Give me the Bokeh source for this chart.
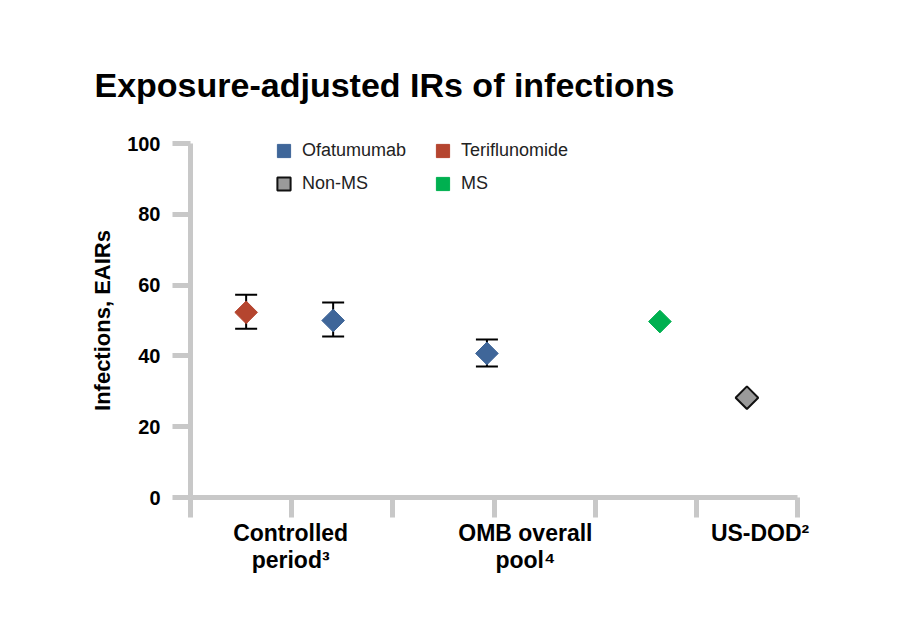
import math
from bokeh.plotting import figure
from bokeh.models import (ColumnDataSource, Whisker, TeeHead, FixedTicker,
                          Legend, LegendItem, Range1d)
from bokeh.embed import file_html
from bokeh.resources import INLINE

# ---------------- data ----------------
title_text = "Exposure-adjusted IRs of infections"
y_label = "Infections, EAIRs"
y_ticks = [0, 20, 40, 60, 80, 100]
x_ticks = [0, 1, 2, 3, 4, 5, 6]
category_labels = ["Controlled\nperiod³", "OMB overall\npool⁴", "US-DOD²"]
category_centers = [0.99, 3.31, 5.63]

point_series = ["Teriflunomide", "Ofatumumab", "Ofatumumab", "MS", "Non-MS"]
point_x = [0.55, 1.41, 2.93, 4.64, 5.50]
point_eair = [52.3, 50.0, 40.7, 49.7, 28.2]

ci_x = [0.55, 1.41, 2.93]
ci_lower = [47.7, 45.5, 37.0]
ci_upper = [57.3, 55.1, 44.6]

# legend order (legend fills column by column)
legend_names = ["Ofatumumab", "Non-MS", "Teriflunomide", "MS"]
series_fill = {"Ofatumumab": "#3f6699", "Teriflunomide": "#b5452f",
               "Non-MS": "#9a9a9a", "MS": "#00b050"}
series_line = {"Ofatumumab": "#3f6699", "Teriflunomide": "#b5452f",
               "Non-MS": "#111111", "MS": "#00b050"}
series_line_width = {"Ofatumumab": 1, "Teriflunomide": 1, "Non-MS": 2, "MS": 1}

# ---------------- figure ----------------
FONT = "Liberation Sans"
GRAY = "#c8c8c8"

p = figure(width=884, height=612, x_range=Range1d(0, 6), y_range=Range1d(0, 100),
           output_backend="svg", toolbar_location=None,
           x_axis_location="below", y_axis_location="left",
           min_border_left=190, min_border_right=87,
           min_border_top=143, min_border_bottom=115)
p.outline_line_color = None
p.grid.visible = False
p.background_fill_color = "white"

p.title.text = title_text
p.title.text_font = FONT
p.title.text_font_style = "bold"
p.title.text_font_size = "34px"
p.title.text_color = "#000000"
p.title.align = "left"
p.title.offset = -96
p.title.standoff = 79

# y axis
yax = p.yaxis[0]
yax.ticker = FixedTicker(ticks=y_ticks)
yax.axis_line_color = GRAY
yax.axis_line_width = 5
yax.major_tick_line_color = GRAY
yax.major_tick_line_width = 5
yax.major_tick_out = 18
yax.major_tick_in = 0
yax.minor_tick_line_color = None
yax.major_label_text_font = FONT
yax.major_label_text_font_style = "bold"
yax.major_label_text_font_size = "20px"
yax.major_label_text_color = "#000000"
yax.major_label_standoff = 12
yax.axis_label = y_label
yax.axis_label_text_font = FONT
yax.axis_label_text_font_style = "bold"
yax.axis_label_text_font_size = "22px"
yax.axis_label_text_color = "#000000"
yax.axis_label_standoff = 9

# x axis: gray tick marks as minor ticks, category labels as major ticks
xax = p.xaxis[0]
xax.ticker = FixedTicker(ticks=category_centers, minor_ticks=x_ticks)
xax.major_label_overrides = {c: l for c, l in zip(category_centers, category_labels)}
xax.axis_line_color = GRAY
xax.axis_line_width = 5
xax.major_tick_line_color = None
xax.major_tick_out = 0
xax.major_tick_in = 0
xax.minor_tick_line_color = GRAY
xax.minor_tick_line_width = 5
xax.minor_tick_out = 20
xax.minor_tick_in = 0
xax.major_label_standoff = 2
xax.major_label_text_font = FONT
xax.major_label_text_font_style = "bold"
xax.major_label_text_font_size = "23px"
xax.major_label_text_color = "#000000"
xax.major_label_text_line_height = 1.05

# error bars
wsrc = ColumnDataSource(dict(base=ci_x, lower=ci_lower, upper=ci_upper))
whisk = Whisker(source=wsrc, base="base", lower="lower", upper="upper",
                dimension="height", line_color="black", line_width=2, level="underlay",
                upper_head=TeeHead(size=22, line_color="black", line_width=2),
                lower_head=TeeHead(size=22, line_color="black", line_width=2))
p.add_layout(whisk)

# points, one renderer per series (legend shows them as upright squares)
renderers = {}
for name in legend_names:
    idx = [i for i, s in enumerate(point_series) if s == name]
    src = ColumnDataSource(dict(x=[point_x[i] for i in idx],
                                y=[point_eair[i] for i in idx]))
    renderers[name] = p.scatter("x", "y", source=src, marker="square",
                                angle=math.pi / 4, size=16,
                                fill_color=series_fill[name],
                                line_color=series_line[name],
                                line_width=series_line_width[name])

legend = Legend(items=[LegendItem(label=n, renderers=[renderers[n]]) for n in legend_names],
                ncols=2, location=(77, 297),
                glyph_width=33, glyph_height=33, label_height=33, label_width=124,
                label_standoff=2, spacing=0, padding=0, margin=0,
                border_line_color=None, background_fill_alpha=0,
                label_text_font=FONT, label_text_font_size="18px",
                label_text_color="#222222")
p.add_layout(legend)

open("out.html", "w").write(file_html(p, INLINE))
